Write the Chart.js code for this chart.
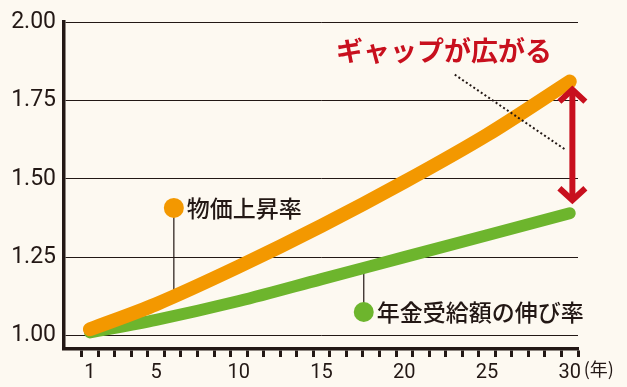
<!DOCTYPE html>
<html>
<head>
<meta charset="utf-8">
<script src="https://cdn.jsdelivr.net/npm/chart.js@4/dist/chart.umd.min.js"></script>
<style>
    html, body { margin: 0; padding: 0; background: #fdf9f1; }
    #wrap { width: 627px; height: 387px; }
</style>
</head>
<body>
<div id="wrap"><canvas id="gapChart" width="627" height="387"></canvas></div>
<script>
// values
const years = [1, 5, 10, 15, 20, 25, 30];
const priceRise = [1.02, 1.10, 1.22, 1.35, 1.49, 1.64, 1.81];     // 物価上昇率
const pensionRise = [1.01, 1.05, 1.11, 1.18, 1.25, 1.32, 1.39];   // 年金受給額の伸び率
const xTickLabels = [1, 5, 10, 15, 20, 25, 30];
const yTickLabels = [1.00, 1.25, 1.50, 1.75, 2.00];

const ink = "#231815";
const orange = "#f39800";
const green = "#6db52d";
const red = "#c8101e";

function toPoints(ys) {
    return years.map((y, i) => ({ x: y, y: ys[i] }));
}

// leader lines, dots, labels, the gap arrow
const notes = {
    id: "notes",
    beforeDatasetsDraw(chart) {
        const ctx = chart.ctx;
        const x = chart.scales.x, y = chart.scales.y;
        ctx.save();
        ctx.strokeStyle = ink;
        ctx.lineWidth = 1.2;
        ctx.beginPath();
        ctx.moveTo(x.getPixelForValue(6.07), y.getPixelForValue(1.407));
        ctx.lineTo(x.getPixelForValue(6.07), y.getPixelForValue(1.13));
        ctx.moveTo(x.getPixelForValue(17.55), y.getPixelForValue(1.075));
        ctx.lineTo(x.getPixelForValue(17.55), y.getPixelForValue(1.215));
        ctx.stroke();
        ctx.restore();
    },
    afterDatasetsDraw(chart) {
        const ctx = chart.ctx;
        const x = chart.scales.x, y = chart.scales.y;
        ctx.save();

        // legend dots + text
        const labels = [
            { yr: 6.07, v: 1.407, color: orange, text: "物価上昇率" },
            { yr: 17.55, v: 1.075, color: green, text: "年金受給額の伸び率" }
        ];
        ctx.font = "500 23px 'Noto Sans CJK JP'";
        ctx.textBaseline = "middle";
        ctx.textAlign = "left";
        labels.forEach(l => {
            const px = x.getPixelForValue(l.yr), py = y.getPixelForValue(l.v);
            ctx.fillStyle = l.color;
            ctx.beginPath();
            ctx.arc(px, py, 10, 0, Math.PI * 2);
            ctx.fill();
            ctx.fillStyle = ink;
            ctx.fillText(l.text, px + 13, py);
        });

        // headline
        ctx.fillStyle = red;
        ctx.font = "bold 27px 'Noto Sans CJK JP'";
        ctx.textAlign = "center";
        ctx.fillText("ギャップが広がる", x.getPixelForValue(22.4), y.getPixelForValue(1.907));

        // dotted pointer
        ctx.strokeStyle = ink;
        ctx.lineWidth = 2;
        ctx.setLineDash([2, 2.5]);
        ctx.beginPath();
        ctx.moveTo(x.getPixelForValue(23.05), y.getPixelForValue(1.832));
        ctx.lineTo(x.getPixelForValue(29.76), y.getPixelForValue(1.592));
        ctx.stroke();
        ctx.setLineDash([]);

        // double arrow between the two line ends
        const ax = x.getPixelForValue(30.16);
        const top = y.getPixelForValue(1.794);
        const bot = y.getPixelForValue(1.422);
        ctx.strokeStyle = red;
        ctx.lineWidth = 6;
        ctx.lineJoin = "miter";
        ctx.beginPath();
        ctx.moveTo(ax, top + 3);
        ctx.lineTo(ax, bot - 3);
        ctx.stroke();
        ctx.beginPath();
        ctx.moveTo(ax - 13, top + 15);
        ctx.lineTo(ax, top + 3);
        ctx.lineTo(ax + 13, top + 15);
        ctx.moveTo(ax - 13, bot - 15);
        ctx.lineTo(ax, bot - 3);
        ctx.lineTo(ax + 13, bot - 15);
        ctx.stroke();

        // unit after 30
        ctx.fillStyle = ink;
        ctx.font = "18px 'Noto Sans CJK JP'";
        ctx.textAlign = "left";
        ctx.fillText("(年)", x.getPixelForValue(30) + 14, 369);

        ctx.restore();
    }
};

const chart = new Chart(document.getElementById("gapChart"), {
    type: "line",
    data: {
        datasets: [
            {
                label: "物価上昇率",
                data: toPoints(priceRise),
                borderColor: orange,
                borderWidth: 14,
                borderCapStyle: "round",
                borderJoinStyle: "round",
                cubicInterpolationMode: "monotone",
                pointRadius: 0,
                fill: false
            },
            {
                label: "年金受給額の伸び率",
                data: toPoints(pensionRise),
                borderColor: green,
                borderWidth: 12,
                borderCapStyle: "round",
                borderJoinStyle: "round",
                cubicInterpolationMode: "monotone",
                pointRadius: 0,
                fill: false
            }
        ]
    },
    options: {
        responsive: false,
        animation: false,
        devicePixelRatio: 1,
        layout: { padding: { left: 0, top: 22, right: 49, bottom: 0 } },
        plugins: {
            legend: { display: false },
            tooltip: { enabled: false }
        },
        scales: {
            x: {
                type: "linear",
                position: "bottom",
                weight: 1,
                min: -0.57,
                max: 30.5,
                grid: { display: false },
                border: { display: false },
                afterBuildTicks: s => { s.ticks = xTickLabels.map(v => ({ value: v })); },
                afterFit: s => { s.height = 30; },
                ticks: {
                    padding: -4,
                    color: ink,
                    font: { family: "Roboto", size: 20 },
                    maxRotation: 0,
                    autoSkip: false
                }
            },
            x2: {
                type: "linear",
                position: "bottom",
                weight: 0,
                min: -0.57,
                max: 30.5,
                afterBuildTicks: s => {
                    s.ticks = Array.from({ length: 31 }, (_, k) => ({ value: k + 0.5 }));
                },
                afterFit: s => { s.height = 8; },
                border: { display: true, color: ink, width: 3.5 },
                grid: { drawOnChartArea: false, drawTicks: true, tickLength: 8, tickWidth: 3, color: ink },
                ticks: { display: false }
            },
            y: {
                min: 0.957,
                max: 2.0,
                afterBuildTicks: s => { s.ticks = yTickLabels.map(v => ({ value: v })); },
                afterFit: s => { s.width = 64; },
                border: { display: true, color: ink, width: 3.5 },
                grid: { color: ink, lineWidth: 1, drawTicks: false },
                ticks: {
                    padding: 8,
                    color: ink,
                    font: { family: "Roboto", size: 23 },
                    callback: v => v.toFixed(2)
                }
            }
        }
    },
    plugins: [notes]
});
</script>
</body>
</html>
